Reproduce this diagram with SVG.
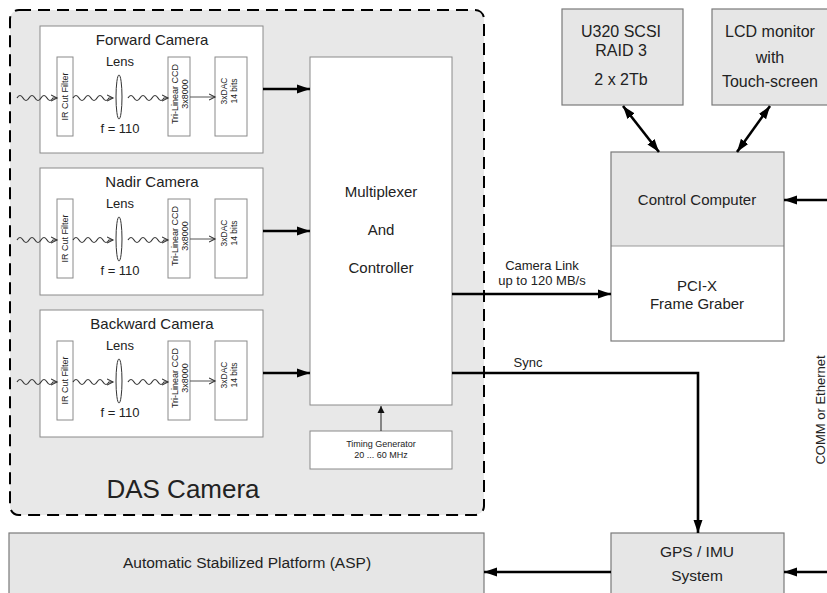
<svg xmlns="http://www.w3.org/2000/svg" width="827" height="593" viewBox="0 0 827 593">
<defs>
<style>
text{font-family:"Liberation Sans",Arial,sans-serif;fill:#222;text-anchor:middle}
.wbox{fill:#fff;stroke:#8a8a8a;stroke-width:1}
.gbox{fill:#e6e6e6;stroke:#7a7a7a;stroke-width:1.2}
.thick{fill:none;stroke:#000;stroke-width:2.6}
.wave{fill:none;stroke:#333;stroke-width:1.2}
.thin{fill:none;stroke:#555;stroke-width:1}
.t15{font-size:15px}
.t13{font-size:13px}
.t16{font-size:16px}
.t9{font-size:9px}
.t8{font-size:8.5px}
</style>
<marker id="big" markerUnits="userSpaceOnUse" markerWidth="14" markerHeight="10" refX="13" refY="5" orient="auto-start-reverse" viewBox="0 0 14 10">
<path d="M0,0.5 L13,5 L0,9.5 Z" fill="#000"/>
</marker>
<marker id="tri" markerUnits="userSpaceOnUse" markerWidth="8" markerHeight="10" refX="7" refY="3.5" orient="auto" viewBox="0 0 8 7">
<path d="M0,0 L7,3.5 L0,7 Z" fill="#111"/>
</marker>
<marker id="open" markerUnits="userSpaceOnUse" markerWidth="8" markerHeight="8" refX="6" refY="3.5" orient="auto" viewBox="0 0 8 7">
<path d="M0,0.5 L6,3.5 L0,6.5" fill="none" stroke="#333" stroke-width="1.1"/>
</marker>
<g id="camInner">
<rect x="57" y="57" width="16" height="79" class="wbox"/>
<text transform="translate(68.3,96.5) rotate(-90)" class="t9">IR Cut Filter</text>
<ellipse cx="119" cy="97" rx="3" ry="22" fill="#fff" stroke="#333" stroke-width="1"/>
<text x="120" y="66" class="t13">Lens</text>
<text x="120" y="133" class="t13">f = 110</text>
<rect x="168" y="57" width="22" height="79" class="wbox"/>
<text transform="translate(178.3,94) rotate(-90)" class="t9">Tri-Linear CCD</text>
<text transform="translate(187.5,94) rotate(-90)" class="t9">3x8000</text>
<rect x="215" y="57" width="32" height="79" class="wbox"/>
<text transform="translate(227,91) rotate(-90)" class="t8">3xDAC</text>
<text transform="translate(237,91) rotate(-90)" class="t8">14 bits</text>
<path class="wave" marker-end="url(#open)" d="M17,98 q3,-5 6,0 t6,0 t6,0 t6,0 t6,0 t6,0 l4,0"/>
<path class="wave" marker-end="url(#open)" d="M73,98 q3,-5 6,0 t6,0 t6,0 t6,0 t6,0 t6,0 l4,0"/>
<path class="wave" marker-end="url(#open)" d="M128,98 q3,-5 6,0 t6,0 t6,0 t6,0 t6,0 t6,0 l4,0"/>
<path class="thin" marker-end="url(#open)" d="M190,97 L215,97"/>
</g>
</defs>
<rect width="827" height="593" fill="#fff"/>

<g id="das-camera">
<rect x="10" y="10" width="474" height="505" rx="9" fill="#e8e8e8" stroke="#000" stroke-width="2" stroke-dasharray="12 7"/>
<text x="183" y="498" style="font-size:26px">DAS Camera</text>
</g>

<g id="forward-camera">
<rect x="40" y="26" width="223" height="127" class="wbox"/>
<text x="152" y="45" class="t15">Forward Camera</text>
<use href="#camInner"/>
</g>
<g id="nadir-camera" transform="translate(0,142)">
<rect x="40" y="26" width="223" height="127" class="wbox"/>
<text x="152" y="45" class="t15">Nadir Camera</text>
<use href="#camInner"/>
</g>
<g id="backward-camera" transform="translate(0,284)">
<rect x="40" y="26" width="223" height="127" class="wbox"/>
<text x="152" y="45" class="t15">Backward Camera</text>
<use href="#camInner"/>
</g>

<g id="multiplexer">
<rect x="310" y="57" width="142" height="348" class="wbox"/>
<text x="381" y="197" class="t15">Multiplexer</text>
<text x="381" y="235" class="t15">And</text>
<text x="381" y="273" class="t15">Controller</text>
</g>

<g id="timing-generator">
<rect x="310" y="431" width="142" height="38" class="wbox"/>
<text x="381" y="447" class="t9">Timing Generator</text>
<text x="381" y="458" class="t9">20 ... 60 MHz</text>
</g>

<g id="raid">
<rect x="562" y="9" width="121" height="96" class="gbox"/>
<text x="621" y="37" class="t16">U320 SCSI</text>
<text x="621" y="56" class="t16">RAID 3</text>
<text x="621" y="85" class="t16">2 x 2Tb</text>
</g>

<g id="lcd">
<rect x="712" y="9" width="120" height="96" class="gbox"/>
<text x="770" y="37" class="t16">LCD monitor</text>
<text x="770" y="63" class="t16">with</text>
<text x="770" y="87" class="t16">Touch-screen</text>
</g>

<g id="control-computer">
<rect x="611" y="152" width="173" height="94" fill="#e6e6e6"/>
<rect x="611" y="246" width="173" height="95" fill="#fff"/>
<line x1="611" y1="246" x2="784" y2="246" stroke="#9a9a9a" stroke-width="1"/>
<rect x="611" y="152" width="173" height="189" fill="none" stroke="#7a7a7a" stroke-width="1.2"/>
<text x="697" y="205" class="t15">Control Computer</text>
<text x="697" y="291" class="t15">PCI-X</text>
<text x="697" y="309" class="t15">Frame Graber</text>
</g>

<g id="asp">
<rect x="9" y="533" width="475" height="75" class="gbox"/>
<text x="247" y="568" style="font-size:15.5px">Automatic Stabilized Platform (ASP)</text>
</g>

<g id="gps-imu">
<rect x="611" y="533" width="173" height="75" class="gbox"/>
<text x="697" y="557" style="font-size:15.5px">GPS / IMU</text>
<text x="697" y="581" style="font-size:15.5px">System</text>
</g>

<g id="connectors">
<path class="thick" marker-end="url(#big)" d="M263,89 L310,89"/>
<path class="thick" marker-end="url(#big)" d="M263,231 L310,231"/>
<path class="thick" marker-end="url(#big)" d="M263,373 L310,373"/>
<path fill="none" stroke="#222" stroke-width="1" marker-end="url(#tri)" d="M381,431 L381,406"/>
<path class="thick" stroke-width="2.2" marker-end="url(#big)" d="M452,294 L611,294"/>
<path class="thick" marker-end="url(#big)" d="M452,373 L698,373 L698,533"/>
<path class="thick" marker-start="url(#big)" marker-end="url(#big)" d="M623,106 L659,152"/>
<path class="thick" marker-start="url(#big)" marker-end="url(#big)" d="M770,106 L737,152"/>
<path class="thick" marker-end="url(#big)" d="M828,200 L784,200"/>
<path class="thick" marker-end="url(#big)" d="M828,572 L784,572"/>
<path class="thick" marker-end="url(#big)" d="M611,572 L484,572"/>
<text x="542" y="270" class="t13">Camera Link</text>
<text x="542" y="285" class="t13">up to 120 MB/s</text>
<text x="528" y="367" class="t13">Sync</text>
<text transform="translate(824.5,410) rotate(-90)" class="t13">COMM or Ethernet</text>
</g>
</svg>
